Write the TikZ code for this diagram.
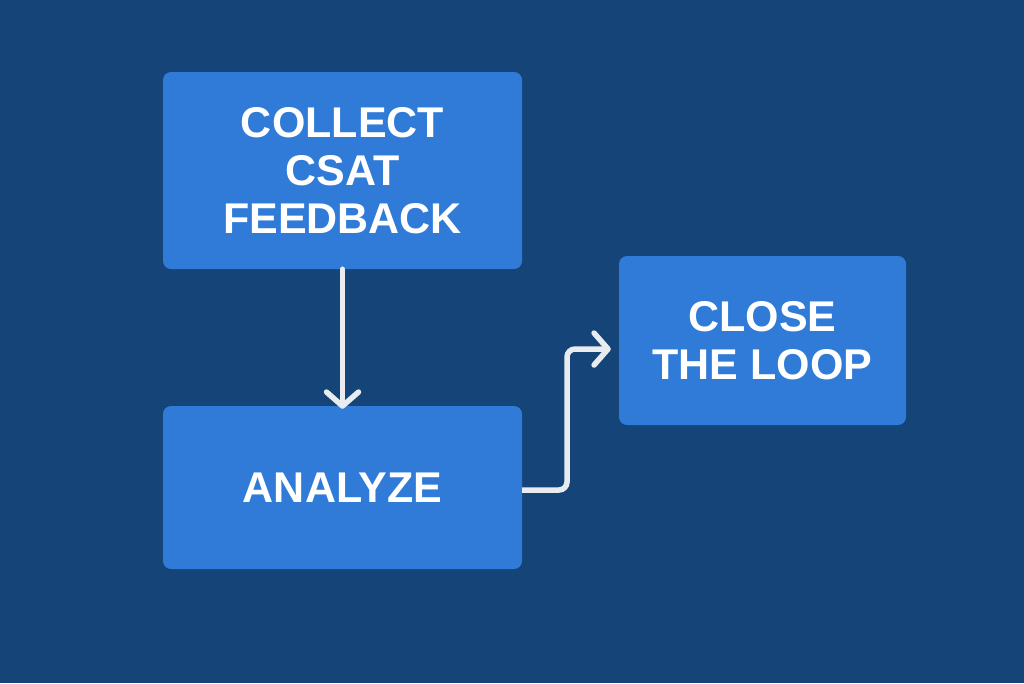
\documentclass[tikz,border=0pt]{standalone}
\usepackage{fontspec}
\setmainfont{Liberation Sans}
\usetikzlibrary{arrows.meta}
\definecolor{bg}{HTML}{144478}
\definecolor{boxc}{HTML}{2F7BD7}
\definecolor{arr}{HTML}{E8ECF0}
\begin{document}
\begin{tikzpicture}[x=1pt,y=-1pt,
  stepbox/.style={fill=boxc,draw=none,rounded corners=8pt,inner sep=0pt,
    text=white,font=\fontsize{43}{48}\selectfont\bfseries,align=center},
  conn/.style={draw=arr,line width=5.5pt,line cap=round,
    -{Straight Barb[length=14pt,width=32pt,line width=5.5pt,round]}}]
\fill[bg] (0,0) rectangle (1024,683);
\useasboundingbox (0,0) rectangle (1024,683);
\node[stepbox,minimum width=359pt,minimum height=197pt] (collect) at (342.5,170.5) {COLLECT\\CSAT\\FEEDBACK};
\node[stepbox,minimum width=359pt,minimum height=163pt] (analyze) at (342.5,487.5) {ANALYZE};
\node[stepbox,minimum width=287pt,minimum height=169pt] (close) at (762.5,340.5) {CLOSE\\THE LOOP};
\draw[conn] (collect.south) -- ([yshift=-3pt]analyze.north);
\draw[conn,rounded corners=8pt,line cap=butt] (analyze.east|-0,490) -- (567,490) -- (567,349) -- ([xshift=-8pt]close.west|-0,349);
\end{tikzpicture}
\end{document}
